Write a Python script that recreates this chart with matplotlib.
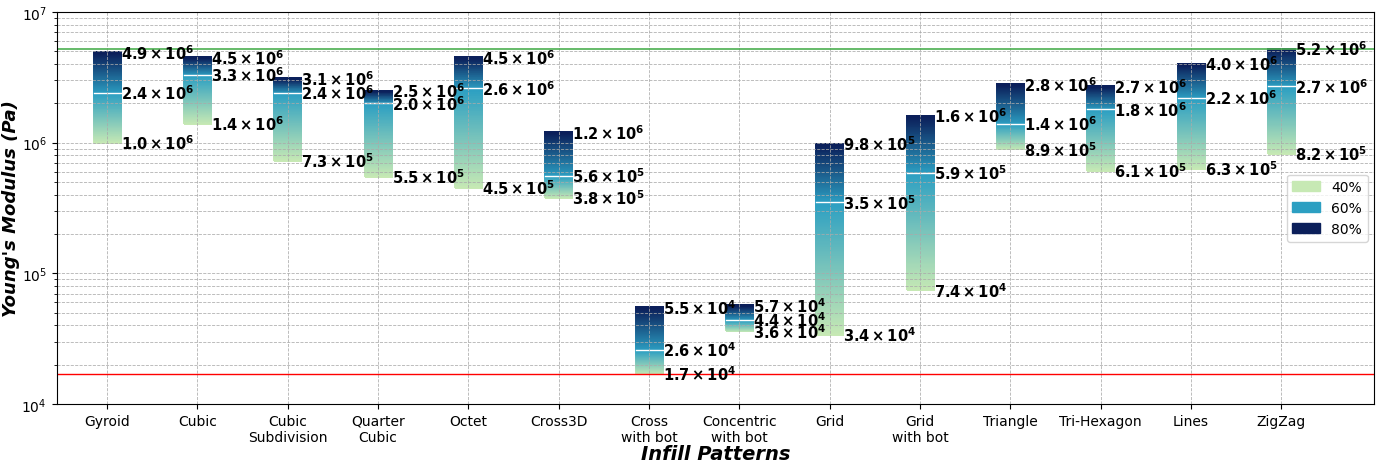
import numpy as np
import matplotlib
matplotlib.use("Agg")
import matplotlib.pyplot as plt
from matplotlib.colors import LinearSegmentedColormap
from matplotlib.patches import Patch

patterns = ["Gyroid", "Cubic", "Cubic\nSubdivision", "Quarter\nCubic", "Octet", "Cross3D",
            "Cross\nwith bot", "Concentric\nwith bot", "Grid", "Grid\nwith bot", "Triangle",
            "Tri-Hexagon", "Lines", "ZigZag"]
e40 = [1.0e6, 1.4e6, 7.3e5, 5.5e5, 4.5e5, 3.8e5, 1.7e4, 3.6e4, 3.4e4, 7.4e4, 8.9e5, 6.1e5, 6.3e5, 8.2e5]
e60 = [2.4e6, 3.3e6, 2.4e6, 2.0e6, 2.6e6, 5.6e5, 2.6e4, 4.4e4, 3.5e5, 5.9e5, 1.4e6, 1.8e6, 2.2e6, 2.7e6]
e80 = [4.9e6, 4.5e6, 3.1e6, 2.5e6, 4.5e6, 1.2e6, 5.5e4, 5.7e4, 9.8e5, 1.6e6, 2.8e6, 2.7e6, 4.0e6, 5.2e6]

c40, c60, c80 = "#c7e9b4", "#2c9fc2", "#0b1f5a"
cmap = LinearSegmentedColormap.from_list("infill", [c40, c60, c80])


def fmt(v):
    e = int(np.floor(np.log10(v)))
    m = v / 10 ** e
    return r"$\mathbf{%.1f\times10^{%d}}$" % (m, e)


fig, ax = plt.subplots(figsize=(13.8, 4.64), dpi=100)
fig.subplots_adjust(left=0.041, right=0.996, top=0.972, bottom=0.127)
ax.set_yscale("log")

w = 0.3
n = 200
for i, (a, b, c) in enumerate(zip(e40, e60, e80)):
    ys = np.geomspace(a, c, n + 1)
    mid = np.sqrt(ys[:-1] * ys[1:])
    la, lb, lc = np.log10(a), np.log10(b), np.log10(c)
    lm = np.log10(mid)
    t = np.where(lm <= lb, 0.5 * (lm - la) / (lb - la), 0.5 + 0.5 * (lm - lb) / (lc - lb))
    ax.pcolormesh([i - w / 2, i + w / 2], ys, t.reshape(-1, 1), cmap=cmap, vmin=0, vmax=1,
                  shading="flat", edgecolors="face", linewidth=0.3, antialiased=False, zorder=1)
    ax.plot([i - w / 2, i + w / 2], [b, b], color="white", lw=1.0, zorder=1.2)
    for v in (a, b, c):
        ax.text(i + w / 2, v, fmt(v), ha="left", va="center", fontsize=10.5, zorder=3)

ax.axhline(max(e80), color="#4caf50", lw=1.2, zorder=2)
ax.axhline(min(e40), color="red", lw=1.0, zorder=2)

ax.set_ylim(1e4, 1e7)
ax.set_xlim(-0.56, 14.03)
ax.set_xticks(range(len(patterns)))
ax.set_xticklabels(patterns, fontsize=10)
ax.tick_params(axis="y", labelsize=10)
ax.grid(True, which="major", ls="--", color="#aaaaaa", lw=0.6, alpha=0.9)
ax.grid(True, which="minor", axis="y", ls="--", color="#aaaaaa", lw=0.6, alpha=0.9)
ax.set_axisbelow("line")
ax.set_xlabel("Infill Patterns", fontsize=14, fontweight="bold", style="italic", labelpad=0)
ax.set_ylabel("Young's Modulus (Pa)", fontsize=13, fontweight="bold", style="italic", labelpad=1)

handles = [Patch(color=c40, label="40%"), Patch(color=c60, label="60%"), Patch(color=c80, label="80%")]
ax.legend(handles=handles, loc="center right", fontsize=10)

fig.savefig("out.png", dpi=100)
